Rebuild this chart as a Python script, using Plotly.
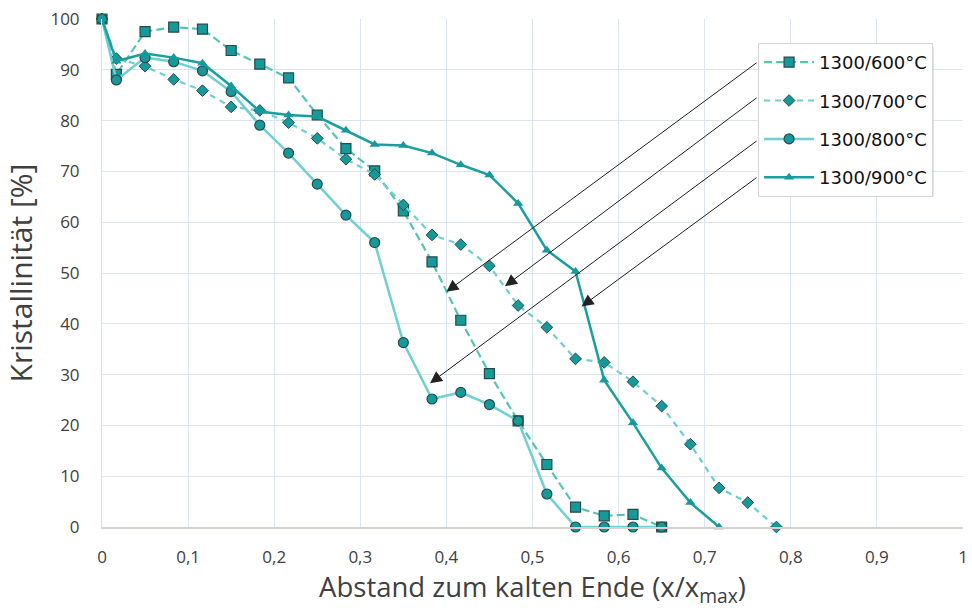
import plotly.graph_objects as go

# ---- data ----
x_600 = [0, 0.0167, 0.05, 0.0833, 0.1167, 0.15, 0.1833, 0.2167, 0.25, 0.2833, 0.3167,
         0.35, 0.3833, 0.4167, 0.45, 0.4833, 0.5167, 0.55, 0.5833, 0.6167, 0.65]
y_600 = [100, 89.1, 97.5, 98.4, 98.0, 93.8, 91.1, 88.4, 81.1, 74.5, 70.1,
         62.2, 52.2, 40.7, 30.2, 20.9, 12.3, 3.9, 2.2, 2.5, 0]

x_700 = [0, 0.0167, 0.05, 0.0833, 0.1167, 0.15, 0.1833, 0.2167, 0.25, 0.2833, 0.3167,
         0.35, 0.3833, 0.4167, 0.45, 0.4833, 0.5167, 0.55, 0.5833, 0.6167, 0.65,
         0.6833, 0.7167, 0.75, 0.7833]
y_700 = [100, 92.2, 90.7, 88.1, 85.9, 82.7, 82.0, 79.6, 76.5, 72.4, 69.4,
         63.4, 57.5, 55.6, 51.4, 43.6, 39.3, 33.1, 32.4, 28.6, 23.8,
         16.3, 7.7, 4.8, 0]

x_800 = [0, 0.0167, 0.05, 0.0833, 0.1167, 0.15, 0.1833, 0.2167, 0.25, 0.2833, 0.3167,
         0.35, 0.3833, 0.4167, 0.45, 0.4833, 0.5167, 0.55, 0.5833, 0.6167, 0.65]
y_800 = [100, 88.0, 92.4, 91.6, 89.8, 85.7, 79.1, 73.6, 67.5, 61.4, 56.0,
         36.3, 25.2, 26.5, 24.1, 20.9, 6.5, 0, 0, 0, 0]

x_900 = [0, 0.0167, 0.05, 0.0833, 0.1167, 0.15, 0.1833, 0.2167, 0.25, 0.2833, 0.3167,
         0.35, 0.3833, 0.4167, 0.45, 0.4833, 0.5167, 0.55, 0.5833, 0.6167, 0.65,
         0.6833, 0.7167]
y_900 = [100, 91.7, 93.2, 92.4, 91.3, 86.8, 81.8, 81.1, 80.8, 78.1, 75.3,
         75.1, 73.6, 71.3, 69.3, 63.7, 54.5, 50.3, 28.9, 20.5, 11.6,
         4.8, 0]

series_names = ["1300/600°C", "1300/700°C", "1300/800°C", "1300/900°C"]

x_tickvals = [0, 0.1, 0.2, 0.3, 0.4, 0.5, 0.6, 0.7, 0.8, 0.9, 1]
x_ticktext = ["0", "0,1", "0,2", "0,3", "0,4", "0,5", "0,6", "0,7", "0,8", "0,9", "1"]
y_tickvals = [0, 10, 20, 30, 40, 50, 60, 70, 80, 90, 100]

# arrows: head (x, y) and tail (x, y) in data units
arrow_head_x = [0.400, 0.468, 0.381, 0.557]
arrow_head_y = [46.3, 47.4, 28.3, 43.4]
arrow_tail_x = [0.762, 0.762, 0.762, 0.762]
arrow_tail_y = [91.6, 84.7, 76.2, 69.0]

MARK = "#16999a"
OUT = "#264b4b"

fig = go.Figure()
fig.add_trace(go.Scatter(
    x=x_600, y=y_600, name=series_names[0], mode="lines+markers", legendgroup="a",
    line=dict(color="#55c4b6", width=2.2, dash="8px,4px"),
    marker=dict(symbol="square", size=10, color=MARK, line=dict(color=OUT, width=1.2)),
    cliponaxis=False))
fig.add_trace(go.Scatter(
    x=x_700, y=y_700, name=series_names[1], mode="lines+markers", legendgroup="b",
    line=dict(color="#6ccfd0", width=2.2, dash="6px,5px"),
    marker=dict(symbol="diamond", size=9, color=MARK, line=dict(color=OUT, width=1)),
    cliponaxis=False))
fig.add_trace(go.Scatter(
    x=x_800, y=y_800, name=series_names[2], mode="lines+markers", legendgroup="c",
    line=dict(color="#6fd0d3", width=2.5),
    marker=dict(symbol="circle", size=10, color=MARK, line=dict(color=OUT, width=1.2)),
    cliponaxis=False))
fig.add_trace(go.Scatter(
    x=x_900, y=y_900, name=series_names[3], mode="lines+markers", legendgroup="d",
    line=dict(color="#1a9f9f", width=2.5),
    marker=dict(symbol="triangle-up", size=9, color=MARK, line=dict(color=MARK, width=0)),
    cliponaxis=False))

for hx, hy, tx, ty in zip(arrow_head_x, arrow_head_y, arrow_tail_x, arrow_tail_y):
    fig.add_annotation(x=hx, y=hy, ax=tx, ay=ty, xref="x", yref="y", axref="x", ayref="y",
                       text="", showarrow=True, arrowhead=2, arrowsize=2.4,
                       arrowwidth=1, arrowcolor="#222222")

# legend drop shadow (soft, offset down-right)
fig.add_shape(type="rect", xref="paper", yref="paper",
              x0=0.767, x1=0.966, y0=0.650, y1=0.944,
              fillcolor="rgba(0,0,0,0.14)", line=dict(width=0), layer="above")
fig.add_shape(type="rect", xref="paper", yref="paper",
              x0=0.766, x1=0.964, y0=0.653, y1=0.946,
              fillcolor="rgba(0,0,0,0.10)", line=dict(width=0), layer="above")

GRID = "#dce5ee"
TXT = "#404040"
fig.update_layout(
    width=972, height=613,
    margin=dict(l=102, r=4, t=19, b=86),
    paper_bgcolor="white", plot_bgcolor="white",
    separators=",.",
    showlegend=True,
    legend=dict(x=0.762, y=0.953, xanchor="left", yanchor="top",
                bgcolor="white", bordercolor="#d6d6d6", borderwidth=1,
                font=dict(family="DejaVu Sans", size=18, color="#111111"),
                itemwidth=50,
                traceorder="grouped", tracegroupgap=12),
    xaxis=dict(range=[0, 1], tickvals=x_tickvals, ticktext=x_ticktext,
               showgrid=True, gridcolor=GRID, gridwidth=1, zeroline=False,
               showline=True, linecolor="#d8d0cc", linewidth=1.5,
               ticks="", ticklabelstandoff=14, ticklabeloverflow="allow",
               tickfont=dict(family="Open Sans", size=17, color=TXT),
               title=dict(text="Abstand zum kalten Ende (x/x<sub>max</sub>)",
                          font=dict(family="Open Sans", size=27.5, color=TXT), standoff=10)),
    yaxis=dict(range=[0, 100], tickvals=y_tickvals,
               showgrid=True, gridcolor=GRID, gridwidth=1, zeroline=False,
               showline=True, linecolor="#d6e2ec", linewidth=1,
               ticks="", ticklabelstandoff=18,
               tickfont=dict(family="Open Sans", size=17, color=TXT),
               title=dict(text="Kristallinität [%]",
                          font=dict(family="Open Sans", size=30, color=TXT), standoff=8)),
)

fig.write_html("out.html")
